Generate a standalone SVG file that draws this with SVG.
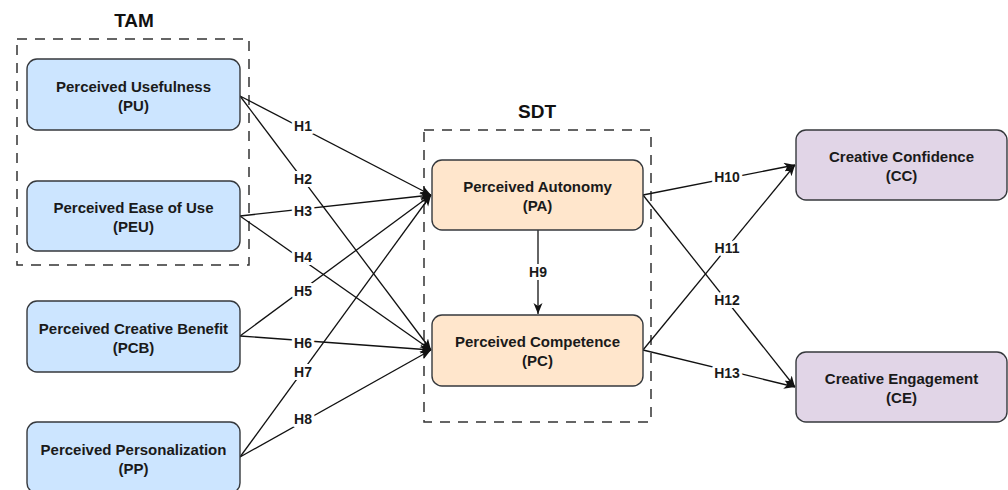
<svg xmlns="http://www.w3.org/2000/svg" width="1008" height="490" viewBox="0 0 1008 490">
<style>
.node rect{stroke:#36393d;stroke-width:1.4}
.blue rect{fill:#cce5ff}
.orange rect{fill:#ffe6cc}
.purple rect{fill:#e1d5e7}
text{font-family:"Liberation Sans",Arial,sans-serif;font-weight:bold;fill:#1a1a1a}
.nt{font-size:15px;text-anchor:middle}
.title{font-size:19px;text-anchor:middle;fill:#111}
.grp{fill:none;stroke:#333;stroke-width:1.5;stroke-dasharray:10 8}
.edge{fill:none;stroke:#111;stroke-width:1.3;marker-end:url(#arr)}
.lbl{font-size:14px;text-anchor:middle;stroke:#fff;stroke-width:6;paint-order:stroke;stroke-linejoin:round}
</style>
<defs>
<marker id="arr" markerUnits="userSpaceOnUse" markerWidth="12" markerHeight="10" refX="11" refY="4.5" orient="auto">
<path d="M0,0 L11,4.5 L0,9 L3,4.5 z" fill="#111"/>
</marker>
</defs>
<rect width="1008" height="490" fill="#fff"/>

<g id="groups">
<rect class="grp" x="17" y="39" width="232" height="226"/>
<text class="title" x="134" y="27">TAM</text>
<rect class="grp" x="424" y="130" width="227" height="292"/>
<text class="title" x="537" y="118">SDT</text>
</g>

<g id="connectors">
<line class="edge" x1="240" y1="96" x2="431" y2="195"/>
<line class="edge" x1="240" y1="96" x2="431" y2="350"/>
<line class="edge" x1="240" y1="216" x2="431" y2="195"/>
<line class="edge" x1="240" y1="216" x2="431" y2="350"/>
<line class="edge" x1="240" y1="336" x2="431" y2="195"/>
<line class="edge" x1="240" y1="336" x2="431" y2="350"/>
<line class="edge" x1="240" y1="457" x2="431" y2="195"/>
<line class="edge" x1="240" y1="457" x2="431" y2="350"/>
<line class="edge" x1="538" y1="230" x2="538" y2="314"/>
<line class="edge" x1="643" y1="195" x2="795" y2="165"/>
<line class="edge" x1="643" y1="350" x2="795" y2="165"/>
<line class="edge" x1="643" y1="195" x2="795" y2="387"/>
<line class="edge" x1="643" y1="350" x2="795" y2="387"/>
<text class="lbl" x="303" y="131">H1</text>
<text class="lbl" x="303" y="184">H2</text>
<text class="lbl" x="303" y="216">H3</text>
<text class="lbl" x="303" y="262">H4</text>
<text class="lbl" x="303" y="296">H5</text>
<text class="lbl" x="303" y="348">H6</text>
<text class="lbl" x="303" y="377">H7</text>
<text class="lbl" x="303" y="424">H8</text>
<text class="lbl" x="538" y="277">H9</text>
<text class="lbl" x="727" y="182">H10</text>
<text class="lbl" x="727" y="253">H11</text>
<text class="lbl" x="727" y="305">H12</text>
<text class="lbl" x="727" y="378">H13</text>
</g>

<g id="PU" class="node blue">
<rect x="27" y="59" width="213" height="71" rx="10"/>
<text class="nt" x="133.5" y="92">Perceived Usefulness</text>
<text class="nt" x="133.5" y="111">(PU)</text>
</g>
<g id="PEU" class="node blue">
<rect x="27" y="181" width="213" height="70" rx="10"/>
<text class="nt" x="133.5" y="213">Perceived Ease of Use</text>
<text class="nt" x="133.5" y="232">(PEU)</text>
</g>
<g id="PCB" class="node blue">
<rect x="27" y="301" width="213" height="71" rx="10"/>
<text class="nt" x="133.5" y="334">Perceived Creative Benefit</text>
<text class="nt" x="133.5" y="353">(PCB)</text>
</g>
<g id="PP" class="node blue">
<rect x="27" y="422" width="213" height="71" rx="10"/>
<text class="nt" x="133.5" y="455">Perceived Personalization</text>
<text class="nt" x="133.5" y="474">(PP)</text>
</g>
<g id="PA" class="node orange">
<rect x="432" y="160" width="211" height="70" rx="10"/>
<text class="nt" x="537.5" y="192">Perceived Autonomy</text>
<text class="nt" x="537.5" y="211">(PA)</text>
</g>
<g id="PC" class="node orange">
<rect x="432" y="315" width="211" height="71" rx="10"/>
<text class="nt" x="537.5" y="347">Perceived Competence</text>
<text class="nt" x="537.5" y="366">(PC)</text>
</g>
<g id="CC" class="node purple">
<rect x="796" y="130" width="211" height="70" rx="10"/>
<text class="nt" x="901.5" y="162">Creative Confidence</text>
<text class="nt" x="901.5" y="181">(CC)</text>
</g>
<g id="CE" class="node purple">
<rect x="796" y="352" width="211" height="70" rx="10"/>
<text class="nt" x="901.5" y="384">Creative Engagement</text>
<text class="nt" x="901.5" y="403">(CE)</text>
</g>
</svg>
